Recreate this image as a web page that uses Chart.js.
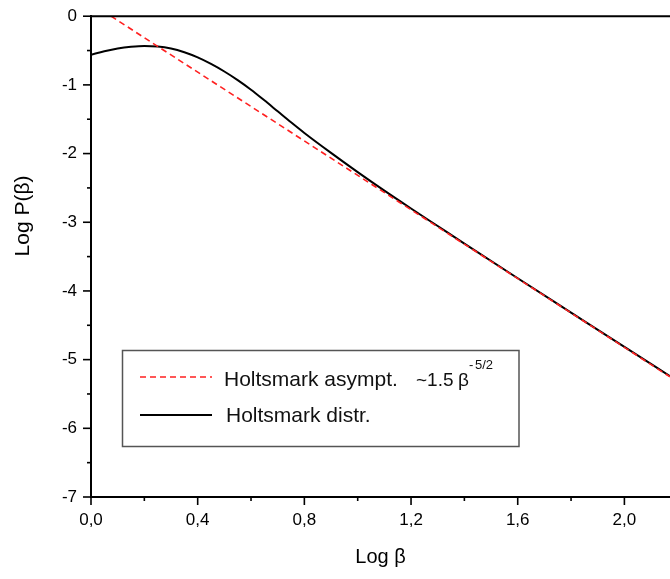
<!DOCTYPE html>
<html>
<head>
<meta charset="utf-8">
<style>
  html,body{margin:0;padding:0;background:#fff}
</style>
<script src="https://cdn.jsdelivr.net/npm/chart.js@4/dist/chart.umd.min.js"></script>
</head>
<body>
<canvas id="c" width="670" height="579"></canvas>
<script>
// Holtsmark distribution, log-log
const LOG_BETA = [0, 0.05, 0.1, 0.15, 0.2, 0.25, 0.3, 0.35, 0.4, 0.45, 0.5, 0.55, 0.6, 0.65, 0.7, 0.75, 0.8, 0.9, 1.0, 1.1, 1.2, 1.3, 1.4, 1.6, 1.8, 2.0, 2.171]
const LOG_P    = [-0.56, -0.51, -0.47, -0.445, -0.433, -0.44, -0.47, -0.525, -0.60, -0.695, -0.805, -0.93, -1.07, -1.225, -1.385, -1.545, -1.70, -1.99, -2.27, -2.54, -2.80, -3.055, -3.31, -3.815, -4.315, -4.815, -5.24]
// asymptote ~1.5 beta^-5/2, two end points
const ASYM_X = [0.075, 2.171]
const ASYM_Y = [0, -5.25]

const X_MIN = 0, X_MAX = 2.171, Y_MIN = -7, Y_MAX = 0
const FONT = '"Liberation Sans", Arial, sans-serif'

const fmtX = v => v.toFixed(1).replace('.', ',')
const isMult = (v, s) => Math.abs(v / s - Math.round(v / s)) < 1e-6

const deco = {
  id: 'deco',
  afterDraw(chart) {
    const { ctx, chartArea: a, scales: { x, y } } = chart
    ctx.save()
    ctx.strokeStyle = '#000'
    ctx.lineWidth = 2
    ctx.beginPath(); ctx.moveTo(a.left - 1, a.top); ctx.lineTo(a.right, a.top); ctx.stroke()

    // tick marks, major long, minor short
    ctx.lineWidth = 1.6
    for (const t of x.ticks) {
      if (!isMult(t.value, 0.2)) continue
      const px = x.getPixelForValue(t.value), len = isMult(t.value, 0.4) ? 8 : 4
      ctx.beginPath(); ctx.moveTo(px, a.bottom); ctx.lineTo(px, a.bottom + len); ctx.stroke()
    }
    for (const t of y.ticks) {
      const py = y.getPixelForValue(t.value), len = isMult(t.value, 1) ? 8 : 4
      ctx.beginPath(); ctx.moveTo(a.left, py); ctx.lineTo(a.left - len, py); ctx.stroke()
    }

    // y title
    ctx.fillStyle = '#000'
    ctx.font = '21px ' + FONT
    ctx.textAlign = 'center'; ctx.textBaseline = 'middle'
    ctx.translate(23, 216); ctx.rotate(-Math.PI / 2)
    ctx.fillText('Log P(β)', 0, 0)
    ctx.setTransform(1, 0, 0, 1, 0, 0)

    // legend box
    ctx.strokeStyle = '#555'; ctx.lineWidth = 1.5
    ctx.strokeRect(122.5, 350.5, 396.5, 96)
    ctx.strokeStyle = '#ff2020'; ctx.lineWidth = 1.6; ctx.setLineDash([6, 4])
    ctx.beginPath(); ctx.moveTo(140, 377); ctx.lineTo(212, 377); ctx.stroke()
    ctx.setLineDash([])
    ctx.strokeStyle = '#000'; ctx.lineWidth = 1.8
    ctx.beginPath(); ctx.moveTo(140, 415); ctx.lineTo(212, 415); ctx.stroke()

    ctx.fillStyle = '#111'; ctx.textAlign = 'left'; ctx.textBaseline = 'alphabetic'
    ctx.font = '21px ' + FONT
    ctx.fillText('Holtsmark asympt.', 224, 386)
    ctx.fillText('Holtsmark distr.', 226, 422)
    ctx.font = '19px ' + FONT
    ctx.fillText('~1.5', 416, 386)
    ctx.fillText('β', 458, 386)
    ctx.font = '13px ' + FONT
    ctx.fillText('-', 469, 369)
    ctx.fillText('5/2', 475, 369)
    ctx.restore()
  }
}

new Chart(document.getElementById('c'), {
  type: 'line',
  data: {
    datasets: [
      {
        label: 'Holtsmark asympt.',
        data: ASYM_X.map((x, i) => ({ x, y: ASYM_Y[i] })),
        borderColor: '#ff2020', borderWidth: 1.6, borderDash: [6, 4],
        pointRadius: 0, fill: false
      },
      {
        label: 'Holtsmark distr.',
        data: LOG_BETA.map((x, i) => ({ x, y: LOG_P[i] })),
        borderColor: '#000', borderWidth: 2, cubicInterpolationMode: 'monotone',
        pointRadius: 0, fill: false
      }
    ]
  },
  options: {
    responsive: false, animation: false,
    layout: { padding: { top: 12, right: 0, bottom: 0, left: 0 } },
    plugins: { legend: { display: false }, tooltip: { enabled: false } },
    scales: {
      x: {
        type: 'linear', min: X_MIN, max: X_MAX,
        border: { display: true, color: '#000', width: 2 },
        grid: { display: true, drawOnChartArea: false, tickLength: 8, tickColor: 'transparent' },
        ticks: {
          stepSize: 0.2, includeBounds: false, autoSkip: false, maxRotation: 0,
          color: '#000', padding: 5, font: { family: FONT, size: 17 },
          callback: v => isMult(v, 0.4) ? fmtX(v) : ''
        },
        title: { display: true, text: 'Log β', color: '#000', font: { family: FONT, size: 20 }, padding: { top: 0, bottom: 10 } },
        afterFit: s => { s.height = 82 }
      },
      y: {
        type: 'linear', min: Y_MIN, max: Y_MAX,
        border: { display: true, color: '#000', width: 2 },
        grid: { display: true, drawOnChartArea: false, tickLength: 8, tickColor: 'transparent' },
        ticks: {
          stepSize: 0.5, autoSkip: false,
          color: '#000', padding: 6, font: { family: FONT, size: 17 },
          callback: v => isMult(v, 1) ? String(v) : ''
        },
        afterFit: s => { s.width = 91 }
      }
    }
  },
  plugins: [deco]
})
</script>
</body>
</html>
